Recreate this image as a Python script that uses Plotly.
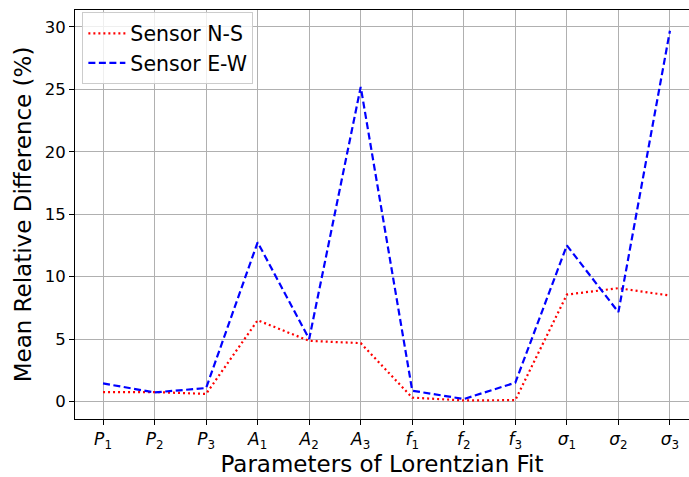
import plotly.graph_objects as go

params = ["P1", "P2", "P3", "A1", "A2", "A3", "f1", "f2", "f3", "s1", "s2", "s3"]
tick_labels = ["<i>P</i><sub>1</sub>", "<i>P</i><sub>2</sub>", "<i>P</i><sub>3</sub>",
               "<i>A</i><sub>1</sub>", "<i>A</i><sub>2</sub>", "<i>A</i><sub>3</sub>",
               "<i>f</i><sub>1</sub>", "<i>f</i><sub>2</sub>", "<i>f</i><sub>3</sub>",
               "<i>σ</i><sub>1</sub>", "<i>σ</i><sub>2</sub>", "<i>σ</i><sub>3</sub>"]
sensor_ns = [0.75, 0.75, 0.6, 6.5, 4.85, 4.67, 0.3, 0.08, 0.1, 8.56, 9.07, 8.48]
sensor_ew = [1.44, 0.72, 1.07, 12.75, 5.0, 25.2, 0.86, 0.19, 1.5, 12.5, 7.15, 29.7]
y_ticks = [0, 5, 10, 15, 20, 25, 30]

xpos = list(range(len(params)))
font = "DejaVu Sans, sans-serif"

fig = go.Figure()
fig.add_trace(go.Scatter(x=xpos, y=sensor_ns, mode="lines", name="Sensor N-S",
                         line=dict(color="red", width=2.2, dash="2px,3px")))
fig.add_trace(go.Scatter(x=xpos, y=sensor_ew, mode="lines", name="Sensor E-W",
                         line=dict(color="blue", width=2.2, dash="7px,3.5px")))

fig.update_layout(
    width=689, height=477,
    margin=dict(l=75, r=0, t=10, b=58),
    paper_bgcolor="white", plot_bgcolor="white",
    font=dict(family=font, color="black"),
    showlegend=True,
    legend=dict(x=0.012, y=0.994, xanchor="left", yanchor="top",
                bgcolor="rgba(255,255,255,0.8)", bordercolor="#cccccc", borderwidth=1,
                font=dict(size=20.5, family=font), itemwidth=37, tracegroupgap=0),
)
fig.update_xaxes(
    range=[-0.544, 11.37], tickmode="array", tickvals=xpos, ticktext=tick_labels,
    tickfont=dict(size=17, family=font), ticks="outside", ticklen=5, tickcolor="black",
    showgrid=True, gridcolor="#b0b0b0", gridwidth=1,
    showline=True, linecolor="black", linewidth=1, mirror=True, zeroline=False,
    title=dict(text="Parameters of Lorentzian Fit", font=dict(size=23, family=font), standoff=1),
)
fig.update_yaxes(
    range=[-1.41, 31.36], tickmode="array", tickvals=y_ticks,
    tickfont=dict(size=16.5, family=font), ticks="outside", ticklen=5, tickcolor="black",
    showgrid=True, gridcolor="#b0b0b0", gridwidth=1,
    showline=True, linecolor="black", linewidth=1, mirror=False, zeroline=False,
    title=dict(text="Mean Relative Difference (%)", font=dict(size=23, family=font), standoff=6),
)

fig.write_html("out.html")
